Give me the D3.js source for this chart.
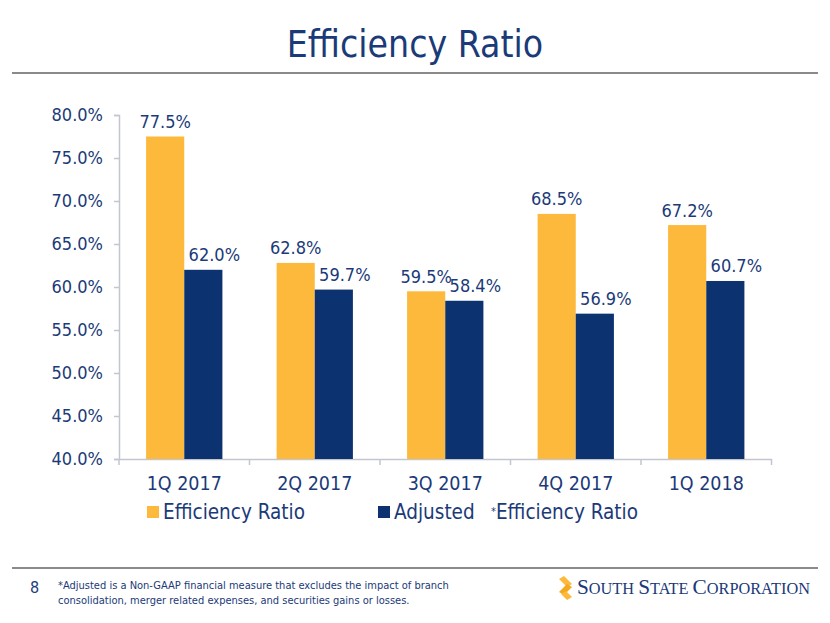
<!DOCTYPE html>
<html><head><meta charset="utf-8">
<script src="https://cdn.jsdelivr.net/npm/d3@7"></script>
<style>body{margin:0;background:#fff}svg{display:block}</style>
</head><body>
<script>
const categories = ["1Q 2017","2Q 2017","3Q 2017","4Q 2017","1Q 2018"];
const efficiency = [77.5, 62.8, 59.5, 68.5, 67.2];
const adjusted = [62.0, 59.7, 58.4, 56.9, 60.7];
const yTicks = [40,45,50,55,60,65,70,75,80];
const seriesNames = ["Efficiency Ratio","Adjusted"];

const W=830,H=623;
const navy="#0c3370", yellow="#fdb93b", textNavy="#1b3a78";
const font="'DejaVu Sans Condensed','DejaVu Sans',sans-serif";
const svg=d3.select("body").append("svg").attr("width",W).attr("height",H).style("font-family",font);

// title
svg.append("text").attr("x",415).attr("y",57).attr("text-anchor","middle")
  .attr("font-size",37).attr("fill",textNavy).text("Efficiency Ratio");
svg.append("line").attr("x1",12).attr("x2",818).attr("y1",73).attr("y2",73).attr("stroke","#8a8a8a").attr("stroke-width",2.2);
svg.append("line").attr("x1",12).attr("x2",818).attr("y1",568).attr("y2",568).attr("stroke","#8a8a8a").attr("stroke-width",2.2);

const x=d3.scaleBand().domain(categories).range([119,771.5]).paddingInner(0).paddingOuter(0);
const y=d3.scaleLinear().domain([40,80]).range([459,115]);
const sub=d3.scaleBand().domain(seriesNames).range([0,x.bandwidth()]).paddingInner(0).paddingOuter(0.71);

// axes
const yAxis=svg.append("g").attr("transform","translate(119,0)")
  .call(d3.axisLeft(y).tickValues(yTicks).tickFormat(d=>d.toFixed(1)+"%").tickSize(5).tickPadding(11));
const xAxis=svg.append("g").attr("transform","translate(0,459)")
  .call(d3.axisBottom(x).tickSize(0).tickPadding(17));
[yAxis,xAxis].forEach(g=>{
  g.select(".domain").attr("stroke","#c3c6d0").attr("stroke-width",1.5);
  g.selectAll(".tick line").attr("stroke","#c3c6d0").attr("stroke-width",1.5);
  g.selectAll("text").attr("fill",textNavy).style("font-family",font);
});
yAxis.selectAll("text").attr("font-size",18);
xAxis.selectAll("text").attr("font-size",19.5);
// category boundary ticks
const bounds=categories.map(c=>x(c)).concat([x(categories[categories.length-1])+x.bandwidth()]);
svg.append("g").selectAll("line").data(bounds).join("line")
  .attr("x1",d=>d).attr("x2",d=>d).attr("y1",459).attr("y2",465)
  .attr("stroke","#c3c6d0").attr("stroke-width",1.5);

const labelShift={"Efficiency Ratio":0,"Adjusted":11};
const data=categories.map((c,i)=>({c,vals:[{s:seriesNames[0],v:efficiency[i],col:yellow},{s:seriesNames[1],v:adjusted[i],col:navy}]}));
const groups=svg.append("g").selectAll("g").data(data).join("g").attr("transform",d=>`translate(${x(d.c)},0)`);
groups.selectAll("rect").data(d=>d.vals).join("rect")
  .attr("x",d=>sub(d.s)).attr("width",sub.bandwidth())
  .attr("y",d=>y(d.v)).attr("height",d=>y(40)-y(d.v)).attr("fill",d=>d.col);
groups.selectAll("text").data(d=>d.vals).join("text")
  .attr("x",d=>sub(d.s)+sub.bandwidth()/2+labelShift[d.s]).attr("y",d=>y(d.v)-8.5)
  .attr("text-anchor","middle").attr("font-size",18).attr("fill",textNavy)
  .text(d=>d.v.toFixed(1)+"%");

// legend
const leg=svg.append("g").attr("font-size",20.5).attr("fill",textNavy);
leg.append("rect").attr("x",147).attr("y",506).attr("width",12).attr("height",12).attr("fill",yellow);
leg.append("text").attr("x",163).attr("y",519).attr("fill",textNavy).text("Efficiency Ratio");
leg.append("rect").attr("x",378).attr("y",506).attr("width",12).attr("height",12).attr("fill",navy);
leg.append("text").attr("x",394).attr("y",519).attr("fill",textNavy).text("Adjusted");
leg.append("text").attr("x",491).attr("y",519).attr("fill",textNavy)
  .html('<tspan font-size="11" dy="-4">*</tspan><tspan dy="4">Efficiency Ratio</tspan>');

// footer
svg.append("text").attr("x",30).attr("y",593).attr("font-size",16).attr("fill",textNavy).text("8");
const foot=svg.append("text").attr("font-size",11).attr("fill",textNavy);
foot.append("tspan").attr("x",58).attr("y",589).text("*Adjusted is a Non-GAAP financial measure that excludes the impact of branch");
foot.append("tspan").attr("x",58).attr("y",604).text("consolidation, merger related expenses, and securities gains or losses.");

// logo
const logo=svg.append("g");
logo.append("path").attr("d","M559,579 l5,-3 l8,8 l-5,3 z").attr("fill",yellow);
logo.append("path").attr("d","M559,592 l8,-8 l5,3 l-8,8 z").attr("fill","#f4a81d");
logo.append("path").attr("d","M561,594 l5,-3 l6,6 l-5,3 z").attr("fill",yellow);
const pieces=[["S",21.3],["OUTH",16.3],[" ",16.3],["S",21.3],["TATE",16.3],[" ",16.3],["C",21.3],["ORPORATION",16.3]];
let lx=577;
pieces.forEach(p=>{
  const t=logo.append("text").attr("x",lx).attr("y",594).attr("fill","#1b3a78")
    .style("font-family","'Liberation Serif','DejaVu Serif',serif").attr("font-size",p[1])
    .attr("xml:space","preserve").style("white-space","pre").text(p[0]);
  lx+=t.node().getComputedTextLength();
  if(p[0]===" ") t.remove();
});
</script>
</body></html>
